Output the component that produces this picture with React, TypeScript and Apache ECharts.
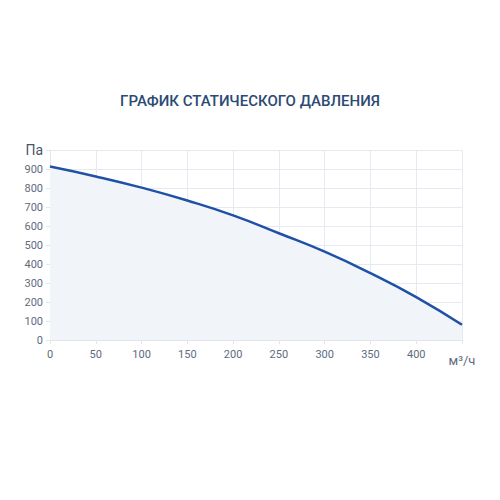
import React, { useEffect, useRef } from "react";
import * as echarts from "echarts";

const title = "ГРАФИК СТАТИЧЕСКОГО ДАВЛЕНИЯ";
const flowValues = [0, 50, 100, 150, 200, 250, 300, 350, 400, 450];
const pressureValues = [913, 861, 802, 734, 656, 562, 465, 352, 226, 80];
const yUnit = "Па";
const xUnit = "м³/ч";

export default function App() {
  const ref = useRef<HTMLDivElement>(null);
  useEffect(() => {
    if (!ref.current) return;
    const chart = echarts.init(ref.current, null, { renderer: "svg" });
    const data = flowValues.map((x, i) => [x, pressureValues[i]]);
    chart.setOption({
      animation: false,
      backgroundColor: "#ffffff",
      title: {
        text: title,
        left: "center",
        top: 88,
        textStyle: {
          fontFamily: "Roboto",
          fontSize: 15,
          fontWeight: 500,
          color: "#2c4a73",
        },
      },
      grid: { left: 50, right: 38, top: 150, bottom: 160, containLabel: false },
      xAxis: {
        type: "value",
        min: 0,
        max: 450,
        interval: 50,
        axisLine: { show: true, lineStyle: { color: "#e2e5eb" } },
        axisTick: { show: true, length: 4, lineStyle: { color: "#e2e5eb" } },
        splitLine: { show: true, lineStyle: { color: "#e6e9ef" } },
        axisLabel: {
          margin: 9,
          fontFamily: "Roboto",
          fontSize: 11,
          color: "#5d6b80",
          formatter: (v: number) => (v === 450 ? "{u|" + xUnit + "}" : String(v)),
          rich: { u: { fontFamily: "Roboto", fontSize: 13, color: "#5d6b80", padding: [5, 0, 0, 0] } },
        },
      },
      yAxis: {
        type: "value",
        min: 0,
        max: 1000,
        interval: 100,
        axisLine: { show: true, lineStyle: { color: "#e2e5eb" } },
        axisTick: { show: true, length: 4, lineStyle: { color: "#e2e5eb" } },
        splitLine: { show: true, lineStyle: { color: "#e6e9ef" } },
        axisLabel: {
          margin: 7,
          fontFamily: "Roboto",
          fontSize: 11,
          color: "#5d6b80",
          formatter: (v: number) => (v === 1000 ? "{u|" + yUnit + "}" : String(v)),
          rich: { u: { fontFamily: "Roboto", fontSize: 14, color: "#4a5568" } },
        },
      },
      series: [
        {
          type: "line",
          data,
          smooth: true,
          showSymbol: false,
          lineStyle: { color: "#1f52a6", width: 2.5 },
          areaStyle: { color: "#f1f4f9", opacity: 1 },
        },
      ],
    });
    return () => chart.dispose();
  }, []);
  return <div ref={ref} style={{ width: 500, height: 500, position: "absolute", left: 0, top: 0 }} />;
}
